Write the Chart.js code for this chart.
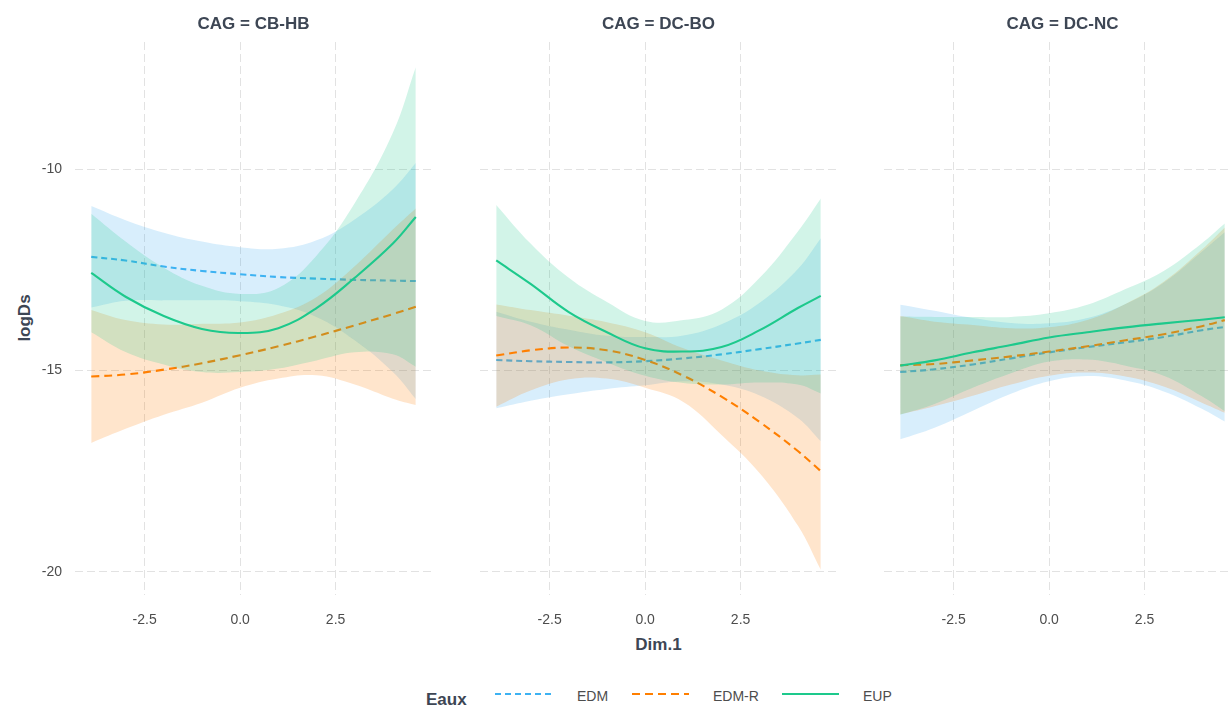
<!DOCTYPE html>
<html>
<head>
<meta charset="utf-8">
<script src="https://cdn.jsdelivr.net/npm/chart.js@4.4.1/dist/chart.umd.min.js"></script>
<style>
  html, body { margin: 0; padding: 0; background: #fff; overflow: hidden; }
  body { width: 1231px; height: 707px; position: relative; font-family: "Liberation Sans", Arial, sans-serif; }
  .panel { position: absolute; top: 0; width: 406px; height: 640px; }
  .strip { position: absolute; top: 14px; width: 357px; line-height: 20px; text-align: center;
           font-weight: bold; font-size: 17px; color: #3d4654; }
  .axis-title { position: absolute; font-weight: bold; font-size: 17px; color: #3d4654; line-height: 20px; }
  .legend-label { position: absolute; font-size: 14px; color: #4d4d4d; line-height: 16px; }
</style>
</head>
<body>
<div class="axis-title" style="left:25px; top:318px; transform: translate(-50%,-50%) rotate(-90deg);">logDs</div>
<div class="axis-title" style="left:480px; width:357px; text-align:center; top:635px;">Dim.1</div>
<div class="axis-title" style="left:426px; top:690px;">Eaux</div>
<div id="legend"></div>

<script>
// =====================
// Data
// =====================
const dim1 = [-3.9, -3, -2, -1, 0, 1, 2, 3, 4, 4.6];
const xTicks = [-2.5, 0, 2.5];
const yTicks = [-20, -15, -10];

const panelNames = ["CAG = CB-HB", "CAG = DC-BO", "CAG = DC-NC"];
const seriesNames = ["EDM", "EDM-R", "EUP"];

// CB-HB
const cbhbEdmFit = [-12.18, -12.27, -12.42, -12.53, -12.61, -12.68, -12.72, -12.75, -12.77, -12.78];
const cbhbEdmHi  = [-10.92, -11.27, -11.58, -11.80, -11.94, -11.98, -11.77, -11.25, -10.50, -9.85];
const cbhbEdmLo  = [-13.44, -13.27, -13.26, -13.26, -13.28, -13.38, -13.67, -14.25, -15.04, -15.71];
const cbhbEdmrFit = [-15.15, -15.10, -14.98, -14.82, -14.62, -14.40, -14.15, -13.88, -13.60, -13.42];
const cbhbEdmrHi  = [-13.50, -13.75, -13.86, -13.84, -13.81, -13.60, -13.18, -12.41, -11.50, -10.98];
const cbhbEdmrLo  = [-16.80, -16.45, -16.10, -15.80, -15.43, -15.20, -15.12, -15.35, -15.70, -15.86];
const cbhbEupFit = [-12.58, -13.17, -13.65, -13.97, -14.07, -13.95, -13.45, -12.70, -11.85, -11.19];
const cbhbEupHi  = [-11.11, -11.80, -12.45, -12.90, -13.10, -12.95, -12.15, -10.85, -9.10, -7.47];
const cbhbEupLo  = [-14.05, -14.54, -14.85, -15.04, -15.04, -14.95, -14.75, -14.55, -14.60, -14.91];

// DC-BO
const dcboEdmFit = [-14.74, -14.77, -14.79, -14.80, -14.77, -14.70, -14.60, -14.47, -14.33, -14.24];
const dcboEdmHi  = [-13.54, -13.79, -13.99, -14.14, -14.17, -14.13, -13.85, -13.32, -12.48, -11.72];
const dcboEdmLo  = [-15.94, -15.75, -15.59, -15.46, -15.37, -15.27, -15.35, -15.62, -16.18, -16.76];
const dcboEdmrFit = [-14.63, -14.50, -14.43, -14.50, -14.74, -15.13, -15.65, -16.28, -17.00, -17.50];
const dcboEdmrHi  = [-13.36, -13.50, -13.64, -13.80, -14.05, -14.45, -14.75, -15.00, -15.12, -15.10];
const dcboEdmrLo  = [-15.90, -15.50, -15.22, -15.20, -15.43, -15.78, -16.60, -17.55, -18.85, -19.95];
const dcboEupFit = [-12.27, -12.85, -13.55, -14.05, -14.45, -14.53, -14.42, -14.00, -13.45, -13.15];
const dcboEupHi  = [-10.89, -11.85, -12.70, -13.30, -13.77, -13.75, -13.49, -12.70, -11.55, -10.73];
const dcboEupLo  = [-13.65, -13.88, -14.40, -14.80, -15.13, -15.31, -15.35, -15.30, -15.35, -15.57];

// DC-NC
const dcncEdmFit = [-15.04, -14.97, -14.85, -14.70, -14.55, -14.42, -14.30, -14.17, -14.00, -13.92];
const dcncEdmHi  = [-13.37, -13.52, -13.70, -13.82, -13.83, -13.70, -13.35, -12.82, -12.05, -11.57];
const dcncEdmLo  = [-16.71, -16.42, -16.00, -15.58, -15.27, -15.14, -15.25, -15.52, -15.95, -16.27];
const dcncEdmrFit = [-14.87, -14.84, -14.75, -14.65, -14.53, -14.40, -14.25, -14.10, -13.90, -13.75];
const dcncEdmrHi  = [-13.65, -13.79, -13.87, -13.95, -13.93, -13.75, -13.35, -12.80, -12.00, -11.45];
const dcncEdmrLo  = [-16.09, -15.89, -15.63, -15.35, -15.13, -15.05, -15.15, -15.40, -15.80, -16.05];
const dcncEupFit = [-14.88, -14.75, -14.55, -14.37, -14.18, -14.05, -13.93, -13.83, -13.74, -13.68];
const dcncEupHi  = [-13.66, -13.67, -13.67, -13.67, -13.58, -13.37, -12.98, -12.53, -11.84, -11.35];
const dcncEupLo  = [-16.10, -15.83, -15.43, -15.07, -14.78, -14.73, -14.88, -15.13, -15.64, -16.01];

// =====================
// Styles
// =====================
const lineColors = ["#3db2f2", "#ff7f00", "#1dc98c"];
const fillColors = ["rgba(61,170,238,0.2)", "rgba(255,127,0,0.2)", "rgba(29,201,140,0.2)"];
const lineDashes = [[6, 4], [8, 5], []];

const xMin = -4.325, xMax = 5.025;
const yMin = -20.574, yMax = -6.846;
const panelLefts = [75, 480, 884];
const gridColor = "#e2e2e2";
const tickColor = "#4d4d4d";

const panels = [
  [[cbhbEdmFit, cbhbEdmHi, cbhbEdmLo], [cbhbEdmrFit, cbhbEdmrHi, cbhbEdmrLo], [cbhbEupFit, cbhbEupHi, cbhbEupLo]],
  [[dcboEdmFit, dcboEdmHi, dcboEdmLo], [dcboEdmrFit, dcboEdmrHi, dcboEdmrLo], [dcboEupFit, dcboEupHi, dcboEupLo]],
  [[dcncEdmFit, dcncEdmHi, dcncEdmLo], [dcncEdmrFit, dcncEdmrHi, dcncEdmrLo], [dcncEupFit, dcncEupHi, dcncEupLo]]
];

const pts = arr => dim1.map((x, i) => ({ x, y: arr[i] }));

function buildDatasets(groups) {
  const out = [];
  groups.forEach(([fit, hi, lo], k) => {
    const base = 9 - k * 3; // ggplot draws EDM first, EUP last (on top)
    out.push({ label: seriesNames[k] + " hi", data: pts(hi), borderColor: "transparent", borderWidth: 0,
               backgroundColor: fillColors[k], fill: "+1", pointRadius: 0, tension: 0.4, order: base });
    out.push({ label: seriesNames[k] + " lo", data: pts(lo), borderColor: "transparent", borderWidth: 0,
               fill: false, pointRadius: 0, tension: 0.4, order: base - 1 });
    out.push({ label: seriesNames[k], data: pts(fit), borderColor: lineColors[k], borderWidth: 2.1,
               borderDash: lineDashes[k], fill: false, pointRadius: 0, tension: 0.4, order: base - 2 });
  });
  return out;
}

// =====================
// Panels
// =====================
panels.forEach((groups, p) => {
  const wrap = document.createElement("div");
  wrap.className = "panel";
  wrap.style.left = (panelLefts[p] - 45) + "px";
  const canvas = document.createElement("canvas");
  wrap.appendChild(canvas);
  document.body.appendChild(wrap);

  const strip = document.createElement("div");
  strip.className = "strip";
  strip.style.left = panelLefts[p] + "px";
  strip.textContent = panelNames[p];
  document.body.appendChild(strip);

  new Chart(canvas, {
    type: "line",
    data: { datasets: buildDatasets(groups) },
    options: {
      responsive: true,
      maintainAspectRatio: false,
      animation: false,
      layout: { padding: { top: 42, right: 4, bottom: 0, left: 0 } },
      plugins: { legend: { display: false }, tooltip: { enabled: false } },
      scales: {
        x: {
          type: "linear", min: xMin, max: xMax,
          afterBuildTicks: s => { s.ticks = xTicks.map(v => ({ value: v })); },
          afterFit: s => { s.height = 45; },
          grid: { color: gridColor, lineWidth: 1, drawTicks: false },
          border: { display: false, dash: [8, 4] },
          ticks: { color: tickColor, font: { size: 14, family: "Liberation Sans, Arial" }, padding: 17,
                   maxRotation: 0, callback: v => v.toFixed(1) }
        },
        y: {
          type: "linear", min: yMin, max: yMax,
          afterBuildTicks: s => { s.ticks = yTicks.map(v => ({ value: v })); },
          afterFit: s => { s.width = 45; },
          grid: { color: gridColor, lineWidth: 1, drawTicks: false },
          border: { display: false, dash: [8, 4] },
          ticks: { display: p === 0, color: tickColor, font: { size: 14, family: "Liberation Sans, Arial" }, padding: 13 }
        }
      }
    }
  });
});

// =====================
// Legend
// =====================
const legendKeyX = [495, 632, 782];
const legendLabelX = [577, 713, 863];
const legend = document.getElementById("legend");
let svg = '<svg width="1231" height="20" style="position:absolute;left:0;top:684px">';
seriesNames.forEach((name, k) => {
  svg += `<line x1="${legendKeyX[k]}" y1="10" x2="${legendKeyX[k] + 57}" y2="10" stroke="${lineColors[k]}"
           stroke-width="2.2" stroke-dasharray="${lineDashes[k].join(" ") || "none"}"/>`;
});
svg += "</svg>";
legend.innerHTML = svg;
seriesNames.forEach((name, k) => {
  const d = document.createElement("div");
  d.className = "legend-label";
  d.style.left = legendLabelX[k] + "px";
  d.style.top = "688px";
  d.textContent = name;
  legend.appendChild(d);
});
</script>
</body>
</html>
